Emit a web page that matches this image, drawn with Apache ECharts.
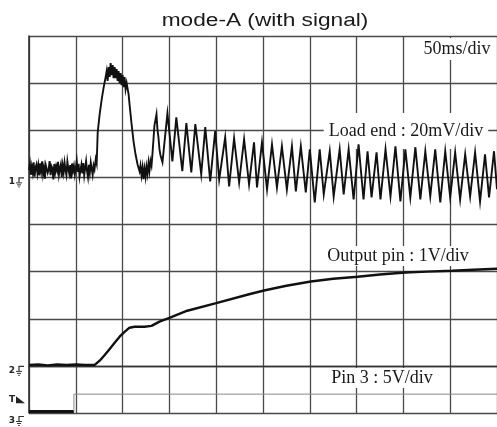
<!DOCTYPE html>
<html>
<head>
<meta charset="utf-8">
<script src="https://cdn.jsdelivr.net/npm/echarts@6/dist/echarts.min.js"></script>
<style>
  html, body { margin: 0; padding: 0; background: #fff; }
  #chart { width: 497px; height: 427px; }
</style>
</head>
<body>
<div id="chart"></div>
<script>
// Time base: 50 ms/div, 10 divisions
const timeDivs = 10;
const msPerDiv = 50;

// Channel 1 (load end, 20 mV/div): pre-trigger noise, one sample per ms from 0 ms
const loadBaselineStepMs = 1;
const loadBaseline = [
  3.2, 5.8, 1.1, 4.6, 2.0, 6.4, 0.3, 4.1, 5.5, 1.8,
  4.9, 0.8, 6.0, 2.7, 6.8, 1.5, 4.2, -0.6, 5.1, 5.9,
  1.9, 3.3, 6.9, 0.9, 4.8, 3.9, -0.9, 5.7, 2.2, 4.7,
  2.9, 6.6, 1.2, 3.8, 5.6, 0.2, 5.0, 2.1, 6.2, 3.0,
  1.0, 6.7, 3.7, 1.6, 5.2, -0.4, 5.9, 2.8, 4.9, 1.3,
  4.0, 7.0, 2.3, 5.8, 0.4, 3.2, 5.4, 1.7, 6.1, 0.9,
  3.9, 6.8, 2.6, 0.1, 5.3, 2.0, 6.3, 3.6, 1.1, 5.0,
  3.4
];

// Channel 1: surge pulse followed by the ringing, [ms, mV]
const loadTransient = [
  [71.3, 7.7], [72.3, 5.9], [73.4, 19.1], [75.5, 26.8], [77.7, 33.2], [79.8, 38.3], [81.9, 42.6],
  [83.0, 45.1], [84.0, 40.9], [85.1, 46.8], [86.2, 42.6], [87.2, 48.5], [88.3, 43.4], [89.4, 47.7],
  [90.4, 42.1], [91.5, 46.8], [92.6, 42.1], [93.6, 46.0], [94.7, 40.9], [95.7, 45.1], [96.8, 40.0],
  [97.9, 44.3], [98.9, 39.1], [100.0, 43.4], [101.1, 38.3], [102.1, 42.6], [103.2, 37.4], [104.3, 40.0],
  [106.4, 35.3], [107.4, 31.1], [109.6, 22.6], [111.7, 15.3], [113.8, 9.8], [116.0, 5.5], [118.1, 2.6],
  [119.1, 5.0], [120.2, 0.9], [121.3, 4.2], [122.3, -0.8], [123.4, 3.6], [124.5, 0.2], [125.5, 4.5],
  [126.6, 1.5], [127.7, 6.2], [128.7, 2.8], [129.8, 7.0], [130.9, 5.0], [132.0, 10.5], [133.0, 16.2],
  [134.0, 22.0], [136.2, 26.8], [137.2, 20.5], [138.3, 17.0], [139.4, 11.9], [140.4, 9.5], [142.6, 6.4],
  [147.9, 27.2], [153.2, 6.8], [157.4, 25.5], [163.8, 2.6], [168.1, 23.0], [173.4, 2.1],
  [177.7, 22.6], [184.0, 1.3], [188.3, 21.3], [193.6, -1.7], [198.9, 19.6], [203.2, -0.9],
  [209.6, 17.0], [213.8, -3.8], [219.1, 16.6], [224.5, -2.1], [229.8, 16.2], [235.1, -3.0],
  [240.4, 14.9], [243.6, -4.3], [248.9, 14.9], [254.3, -5.1], [259.6, 14.0], [264.9, -4.3],
  [270.2, 13.2], [275.5, -5.1], [280.9, 13.2], [285.1, -6.0], [290.4, 13.2], [295.7, -6.4],
  [300.0, 11.9], [305.3, -10.6], [310.6, 11.9], [314.9, -7.2], [321.3, 11.1], [325.5, -8.1],
  [331.9, 11.9], [336.2, -7.2], [341.5, 11.9], [346.8, -9.4], [352.1, 14.0], [357.4, -9.4],
  [361.7, 11.1], [366.0, -8.5], [371.3, 10.6], [375.5, -9.4], [380.9, 11.9], [386.2, -8.1],
  [391.5, 13.2], [396.8, -10.2], [402.1, 11.9], [407.4, -8.5], [412.8, 12.8], [418.1, -9.4],
  [423.4, 11.1], [428.7, -8.1], [434.0, 11.9], [439.4, -10.6], [444.7, 11.1], [450.0, -8.5],
  [455.3, 10.6], [460.6, -9.4], [466.0, 9.8], [471.3, -8.1], [476.6, 10.6], [481.9, -10.2],
  [487.2, 9.8], [491.5, -8.5], [496.8, 11.1], [500.0, -5.0]
];

// Channel 2 (output pin, 1 V/div), [ms, V]
const outputPin = [
  [0, 0.02], [10, 0.03], [20, 0.01], [30, 0.03], [40, 0.02], [50, 0.03], [60, 0.02], [70.2, 0.02],
  [75.5, 0.11], [80.9, 0.23], [86.2, 0.36], [91.5, 0.49], [96.8, 0.62], [102.1, 0.72], [107.4, 0.81],
  [112.8, 0.83], [123.4, 0.83], [130.9, 0.85], [139.4, 0.94], [150.0, 1.02], [169.1, 1.17],
  [200.0, 1.33], [235.1, 1.52], [251.1, 1.60], [275.0, 1.70], [301.1, 1.79], [325.0, 1.85],
  [351.1, 1.89], [375.0, 1.94], [402.1, 1.98], [425.0, 2.00], [452.1, 2.02], [475.0, 2.04],
  [500.0, 2.06]
];

// Channel 3 (pin 3, 5 V/div), [ms, V]
const pin3 = [[0, 0.15], [48.0, 0.15], [48.0, 2.0], [500, 2.0]];

// Screen layout in divisions for each channel: ground reference and scale
const vertDivs = 8;
const loadScale = { perDiv: 20, groundDiv: 5 };   // mV
const outScale = { perDiv: 1, groundDiv: 1 };     // V
const pin3Scale = { perDiv: 5, groundDiv: 0 };    // V
const triggerLevelV = 1.4;

function axisRange(s) {
  return { min: -s.groundDiv * s.perDiv, max: (vertDivs - s.groundDiv) * s.perDiv };
}

const loadData = loadBaseline.map((v, i) => [i * loadBaselineStepMs, v]).concat(loadTransient);

const chart = echarts.init(document.getElementById('chart'), null, { renderer: 'canvas' });

const gridColor = '#4a4a4a';
const traceColor = '#111';

chart.setOption({
  animation: false,
  backgroundColor: '#fff',
  grid: { left: 29, top: 36, width: 470, height: 377 },
  xAxis: {
    type: 'value', min: 0, max: timeDivs * msPerDiv, interval: msPerDiv,
    axisLabel: { show: false }, axisTick: { show: false },
    axisLine: { show: true, lineStyle: { color: '#333', width: 1.4 } },
    splitLine: { show: true, lineStyle: { color: gridColor, width: 1.3 } }
  },
  yAxis: [
    Object.assign({
      type: 'value', interval: outScale.perDiv,
      axisLabel: { show: false }, axisTick: { show: false },
      axisLine: { show: true, lineStyle: { color: '#333', width: 1.6 } },
      splitLine: { show: true, lineStyle: { color: gridColor, width: 1.3 } }
    }, axisRange(outScale)),
    Object.assign({ type: 'value', show: false, splitLine: { show: false } }, axisRange(loadScale)),
    Object.assign({ type: 'value', show: false, splitLine: { show: false } }, axisRange(pin3Scale))
  ],
  series: [
    {
      name: 'Load end', type: 'line', yAxisIndex: 1, z: 10, showSymbol: false,
      data: loadData, lineStyle: { color: traceColor, width: 1.9, join: 'miter' }
    },
    {
      name: 'Output pin', type: 'line', yAxisIndex: 0, z: 10, showSymbol: false,
      data: outputPin, lineStyle: { color: traceColor, width: 2.4 }
    },
    {
      name: 'Pin 3 low', type: 'line', yAxisIndex: 2, z: 10, showSymbol: false,
      data: pin3.slice(0, 2), lineStyle: { color: traceColor, width: 3 }
    },
    {
      name: 'Pin 3', type: 'line', yAxisIndex: 2, z: 10, showSymbol: false,
      data: pin3.slice(1), lineStyle: { color: '#8a8a8a', width: 1 }
    }
  ]
});

// Channel ground markers and trigger marker, placed at their levels on the screen
function groundMarker(label, y) {
  const sx = 19;
  return [
    { type: 'text', z: 20, style: { text: label, x: 15, y: y, fill: '#222', font: 'bold 9px "DejaVu Sans"', align: 'right', verticalAlign: 'top' } },
    { type: 'polyline', z: 20, shape: { points: [[sx + 5, y + 0.5], [sx, y + 0.5], [sx, y + 5]] }, style: { stroke: '#333', lineWidth: 1.2, fill: null } },
    { type: 'line', z: 20, shape: { x1: sx - 3, y1: y + 5.5, x2: sx + 3, y2: y + 5.5 }, style: { stroke: '#333', lineWidth: 1 } },
    { type: 'line', z: 20, shape: { x1: sx - 2, y1: y + 7.5, x2: sx + 2, y2: y + 7.5 }, style: { stroke: '#333', lineWidth: 1 } },
    { type: 'line', z: 20, shape: { x1: sx - 0.8, y1: y + 9.5, x2: sx + 0.8, y2: y + 9.5 }, style: { stroke: '#333', lineWidth: 1 } }
  ];
}
function triggerMarker(y) {
  return [
    { type: 'text', z: 20, style: { text: 'T', x: 12, y: y, fill: '#222', font: 'bold 9px "DejaVu Sans"', align: 'center', verticalAlign: 'middle' } },
    { type: 'polygon', z: 20, shape: { points: [[16, y - 3.5], [16, y + 3.5], [25, y + 3.5]] }, style: { fill: '#222' } }
  ];
}

const yLoad0 = chart.convertToPixel({ yAxisIndex: 1 }, 0);
const yOut0 = chart.convertToPixel({ yAxisIndex: 0 }, 0);
const yPin0 = chart.convertToPixel({ yAxisIndex: 2 }, 0);
const yTrig = chart.convertToPixel({ yAxisIndex: 2 }, triggerLevelV);

const serif = '"Liberation Serif", "Times New Roman", serif';
function scaleLabel(text, x, y, pad) {
  return {
    type: 'text', z: 5,
    style: {
      text: text, x: x, y: y, fill: '#1a1a1a', font: '18px ' + serif,
      align: 'center', verticalAlign: 'middle', backgroundColor: '#fff', padding: pad
    }
  };
}

chart.setOption({
  graphic: [
    {
      type: 'text', x: 265, y: 21, scaleX: 1.26, z: 20,
      style: { text: 'mode-A (with signal)', fill: '#1a1a1a', font: '18px "Liberation Sans", Arial, sans-serif', align: 'center', verticalAlign: 'middle' }
    },
    scaleLabel('50ms/div', 457, 49, [2, 4]),
    scaleLabel('Load end : 20mV/div', 406, 131, [9, 5]),
    scaleLabel('Output pin : 1V/div', 398, 256, [1, 4]),
    scaleLabel('Pin 3 : 5V/div', 382, 378, [1, 4])
  ]
    .concat(groundMarker('1', yLoad0))
    .concat(groundMarker('2', yOut0))
    .concat(triggerMarker(yTrig))
    .concat(groundMarker('3', yPin0 + 3))
});
</script>
</body>
</html>
